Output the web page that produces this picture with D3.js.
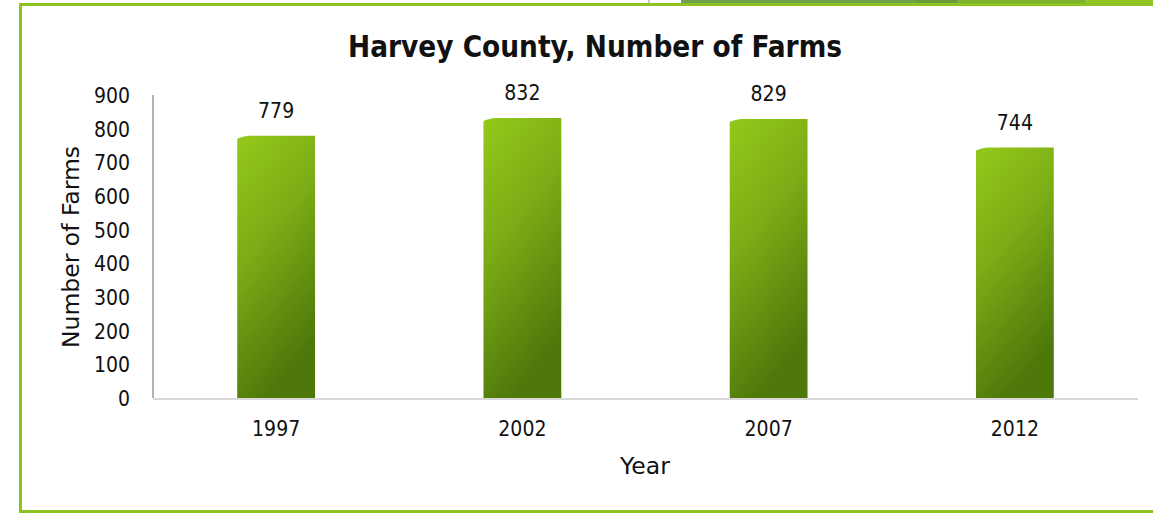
<!DOCTYPE html>
<html>
<head>
<meta charset="utf-8">
<script src="https://cdn.jsdelivr.net/npm/d3@7"></script>
<style>
  html, body { margin: 0; padding: 0; background: #ffffff; }
  svg { display: block; }
  text { font-family: "DejaVu Sans", Verdana, sans-serif; fill: #111; }
</style>
</head>
<body>
<svg id="chart" width="1153" height="513"></svg>
<script>
// Census of agriculture: number of farms in Harvey County
const years = ["1997", "2002", "2007", "2012"];
const farms = [779, 832, 829, 744];
const yTicks = [0, 100, 200, 300, 400, 500, 600, 700, 800, 900];

const title = "Harvey County, Number of Farms";
const xTitle = "Year";
const yTitle = "Number of Farms";

const svg = d3.select("#chart");
const W = 1153, H = 513;
const narrow = "'DejaVu Sans Condensed', 'DejaVu Sans', sans-serif";

// slide decoration strip along the top edge
const strip = svg.append("g");
strip.append("rect").attr("x", 648).attr("y", 0).attr("width", 2).attr("height", 3).attr("fill", "#c8c8c8");
strip.append("rect").attr("x", 681).attr("y", 0).attr("width", 275).attr("height", 3).attr("fill", "#70a24c");
strip.append("rect").attr("x", 916).attr("y", 0).attr("width", 42).attr("height", 3).attr("fill", "#6a9c3e");
strip.append("rect").attr("x", 958).attr("y", 0).attr("width", 127).attr("height", 3).attr("fill", "#7fb22e");
strip.append("rect").attr("x", 1085).attr("y", 0).attr("width", 68).attr("height", 3).attr("fill", "#8fc423");

// chart frame (green border, open on the right)
const frame = svg.append("g");
frame.append("rect").attr("x", 19).attr("y", 3).attr("width", W - 19).attr("height", 3).attr("fill", "#8dc21f");
frame.append("rect").attr("x", 19).attr("y", 3).attr("width", 3).attr("height", H - 3).attr("fill", "#8dc21f");
frame.append("rect").attr("x", 19).attr("y", 510).attr("width", W - 19).attr("height", 3).attr("fill", "#8dc21f");

// plot area
const plot = { left: 153, right: 1138, top: 95, bottom: 398 };

const x = d3.scaleBand().domain(years).range([plot.left, plot.right]).paddingInner(0.684).paddingOuter(0.342);
const y = d3.scaleLinear().domain([0, 900]).range([plot.bottom, plot.top]);

// bar gradient: bright green at the top, darker olive toward the lower right
const defs = svg.append("defs");
const grad = defs.append("linearGradient").attr("id", "barGrad")
  .attr("x1", "0").attr("y1", "0").attr("x2", "0.35").attr("y2", "1");
grad.append("stop").attr("offset", "0").attr("stop-color", "#93c91a");
grad.append("stop").attr("offset", "0.45").attr("stop-color", "#7cac16");
grad.append("stop").attr("offset", "1").attr("stop-color", "#4f780b");

// title
svg.append("text").attr("x", 595).attr("y", 57).attr("text-anchor", "middle")
  .attr("textLength", 494).attr("lengthAdjust", "spacingAndGlyphs")
  .style("font-family", narrow)
  .style("font-size", "30px").style("font-weight", "bold").text(title);

// y axis
const yAxis = d3.axisLeft(y).tickValues(yTicks).tickSize(0).tickPadding(23);
const yg = svg.append("g").attr("transform", `translate(${plot.left},0)`).call(yAxis);
yg.select(".domain").attr("stroke", "#b3b3b3").attr("stroke-width", 2)
  .attr("d", `M0,${plot.top}V${plot.bottom}`);
yg.selectAll(".tick text").style("font-family", narrow)
  .style("font-size", "21px").attr("fill", "#111").attr("dy", "0.36em");

// bars
const bars = svg.append("g");
years.forEach((yr, i) => {
  const bx = x(yr), bw = x.bandwidth();
  const by = y(farms[i]), bb = y(0);
  bars.append("path")
    .attr("d", `M${bx},${bb}V${by + 3}l4,-1.5l4,-1l4,-0.5H${bx + bw}V${bb}Z`)
    .attr("fill", "url(#barGrad)");
  bars.append("text").attr("x", bx + bw / 2).attr("y", by - 18)
    .attr("text-anchor", "middle").style("font-family", narrow)
    .style("font-size", "21px").text(farms[i]);
});

// x axis
const xAxis = d3.axisBottom(x).tickSize(0).tickPadding(22);
const xg = svg.append("g").attr("transform", `translate(0,${plot.bottom + 1})`).call(xAxis);
xg.select(".domain").attr("stroke", "#d9d9d9").attr("stroke-width", 2)
  .attr("d", `M${plot.left},0H${plot.right}`);
xg.selectAll(".tick text").style("font-family", narrow)
  .style("font-size", "21px").attr("fill", "#111");

// axis titles
svg.append("text").attr("x", 645).attr("y", 474).attr("text-anchor", "middle")
  .style("font-size", "23.5px").text(xTitle);
svg.append("text").attr("transform", "translate(79,247) rotate(-90)").attr("text-anchor", "middle")
  .style("font-size", "23.5px").text(yTitle);
</script>
</body>
</html>
